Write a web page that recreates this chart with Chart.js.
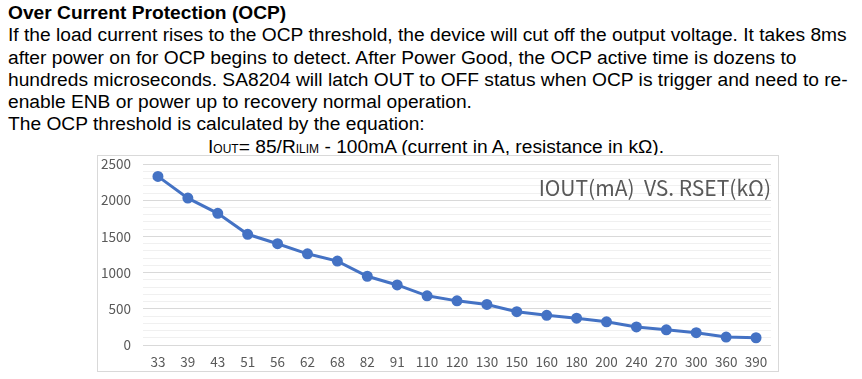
<!DOCTYPE html>
<html><head><meta charset="utf-8">
<script src="https://cdn.jsdelivr.net/npm/chart.js@4/dist/chart.umd.min.js"></script>
<style>
html,body{margin:0;padding:0;background:#fff;width:862px;height:379px;overflow:hidden;}
#txt{position:absolute;left:8px;top:2px;font-family:"Liberation Sans",Arial,sans-serif;font-size:19.2px;line-height:22.3px;color:#000;white-space:nowrap;}
#txt b{font-weight:bold;}
.sub{font-size:12px;}
#box{position:absolute;left:97px;top:155px;width:680px;height:215px;border:1px solid #d9d9d9;background:#fff;}
canvas{display:block;}
</style></head><body>
<div id="txt">
<div><b>Over Current Protection (OCP)</b></div>
<div>If the load current rises to the OCP threshold, the device will cut off the output voltage. It takes 8ms</div>
<div>after power on for OCP begins to detect. After Power Good, the OCP active time is dozens to</div>
<div>hundreds microseconds. SA8204 will latch OUT to OFF status when OCP is trigger and need to re-</div>
<div>enable ENB or power up to recovery normal operation.</div>
<div>The OCP threshold is calculated by the equation:</div>
<div style="padding-left:200px">I<span class="sub">OUT</span>= 85/R<span class="sub">ILIM</span> - 100mA (current in A, resistance in kΩ).</div>
</div>
<div id="box"><canvas id="c" width="680" height="215"></canvas></div>
<script>
const categories = ["33","39","43","51","56","62","68","82","91","110","120","130","150","160","180","200","240","270","300","360","390"];
const ioutValues = [2330,2030,1820,1530,1400,1260,1160,950,830,680,610,560,460,410,370,320,250,210,170,110,100];
const chartTitle = "IOUT(mA)  VS. RSET(kΩ)";
const FONT = "'Noto Sans CJK SC','Noto Sans',sans-serif";

const titlePlugin = {
  id:'insideTitle',
  afterDatasetsDraw(chart){
    const ctx = chart.ctx, a = chart.chartArea;
    ctx.save();
    ctx.font = "21px " + FONT;
    ctx.fillStyle = "#595959";
    ctx.textAlign = "right";
    ctx.textBaseline = "middle";
    ctx.fillText(chartTitle, a.right, a.top + 24);
    ctx.restore();
  }
};

new Chart(document.getElementById('c'), {
  type:'line',
  data:{labels:categories, datasets:[{data:ioutValues, borderColor:'#4472C4', backgroundColor:'#4472C4', borderWidth:3, pointRadius:4, pointHoverRadius:4, tension:0}]},
  options:{
    responsive:false, animation:false,
    layout:{padding:{top:0,right:4,left:0,bottom:0}},
    plugins:{legend:{display:false}, tooltip:{enabled:false}},
    scales:{
      x:{offset:true, grid:{display:false, drawTicks:false}, border:{display:false},
         ticks:{color:'#595959', font:{family:FONT,size:13.5}, padding:9, maxRotation:0, autoSkip:false},
         afterFit(s){s.height=26;}},
      y:{min:0,max:2500, border:{display:false},
         grid:{drawTicks:true, tickLength:12, tickColor:'rgba(0,0,0,0)', color:(c)=> (c.tick && c.tick.value%500===0) ? '#d9d9d9' : '#f0f0f0', lineWidth:1},
         ticks:{stepSize:100, autoSkip:false, padding:0, color:'#595959', font:{family:FONT,size:13.5},
                callback:(v)=> v%500===0 ? String(v) : ''},
         afterFit(s){s.width=45;}}
    }
  },
  plugins:[titlePlugin]
});
</script>
</body></html>
